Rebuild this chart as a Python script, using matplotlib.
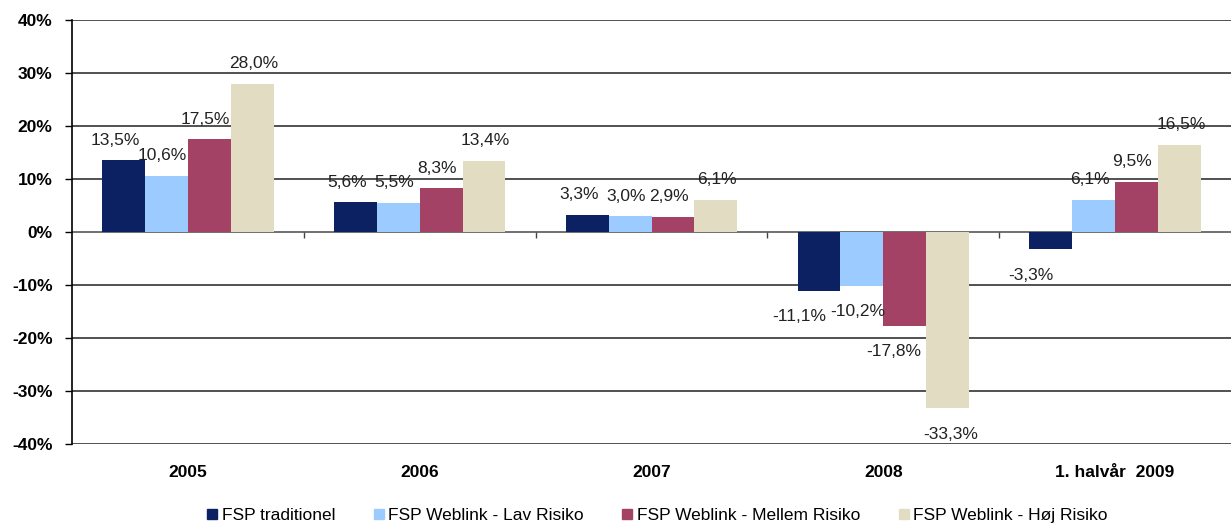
import numpy as np
import matplotlib.pyplot as plt
from matplotlib.lines import Line2D

plt.rcParams['font.family'] = ['Liberation Sans', 'DejaVu Sans']

# Data (percent)
years = ["2005", "2006", "2007", "2008", "1. halvår  2009"]
series_names = ["FSP traditionel", "FSP Weblink - Lav Risiko",
                "FSP Weblink - Mellem Risiko", "FSP Weblink - Høj Risiko"]
traditionel = [13.5, 5.6, 3.3, -11.1, -3.3]
lav_risiko = [10.6, 5.5, 3.0, -10.2, 6.1]
mellem_risiko = [17.5, 8.3, 2.9, -17.8, 9.5]
hoej_risiko = [28.0, 13.4, 6.1, -33.3, 16.5]
y_ticks = [-40, -30, -20, -10, 0, 10, 20, 30, 40]

colors = ["#0C2161", "#9CCCFF", "#A34265", "#E2DDC2"]
all_series = [traditionel, lav_risiko, mellem_risiko, hoej_risiko]
# horizontal nudge of the value labels per series (points)
pos_shift = [-6, -3, -3, 1]
neg_shift = [-14, -3, -8, 2]

fig = plt.figure(figsize=(12.31, 5.25), dpi=100)
ax = fig.add_axes([72 / 1231, 81 / 525, 1 - 72 / 1231, (444 - 20) / 525])

x = np.arange(len(years))
bar_w = 0.185
for i, (vals, col) in enumerate(zip(all_series, colors)):
    pos = x + (i - 1.5) * bar_w
    ax.bar(pos, vals, width=bar_w, color=col, zorder=3)
    for px, v in zip(pos, vals):
        label = f"{v:.1f}%".replace(".", ",")
        if v >= 0:
            ax.annotate(label, (px, v), xytext=(pos_shift[i], 9), textcoords="offset points",
                        ha="center", va="bottom", fontsize=12.5, color="#222222", zorder=4)
        else:
            ax.annotate(label, (px, v), xytext=(neg_shift[i], -13), textcoords="offset points",
                        ha="center", va="top", fontsize=12.5, color="#222222", zorder=4)

ax.set_xlim(-0.5, len(years) - 0.5)
ax.set_ylim(-40, 40)
ax.set_yticks(y_ticks)
ax.set_yticklabels([f"{t}%" for t in y_ticks], fontweight="bold", fontsize=12.5)
ax.tick_params(axis="y", length=5, width=1, pad=9, color="black")
ax.grid(axis="y", color="#222222", linewidth=1.1, zorder=1)

ax.set_xticks(x)
ax.set_xticklabels(years, fontweight="bold", fontsize=12.5)
ax.tick_params(axis="x", length=0, pad=15)

# zero line with category separators
ax.axhline(0, color="#777777", linewidth=1.3, zorder=2)
ax.vlines(x[:-1] + 0.5, -1.1, 0, color="#444444", linewidth=1, zorder=2)

for s in ["top", "right", "bottom"]:
    ax.spines[s].set_visible(False)
ax.spines["left"].set_color("black")
ax.spines["left"].set_linewidth(1.2)

handles = [Line2D([0], [0], marker="s", linestyle="none", markersize=7,
                  markerfacecolor=c, markeredgecolor=c) for c in colors]
fig.legend(handles, series_names, loc="center", bbox_to_anchor=(0.534, 0.018),
           ncol=4, frameon=False, handlelength=0.6,
           handletextpad=0.25, columnspacing=2.2,
           prop={"family": ["Liberation Sans Narrow", "Liberation Sans"], "size": 12.5})

fig.savefig("out.png", dpi=100)
